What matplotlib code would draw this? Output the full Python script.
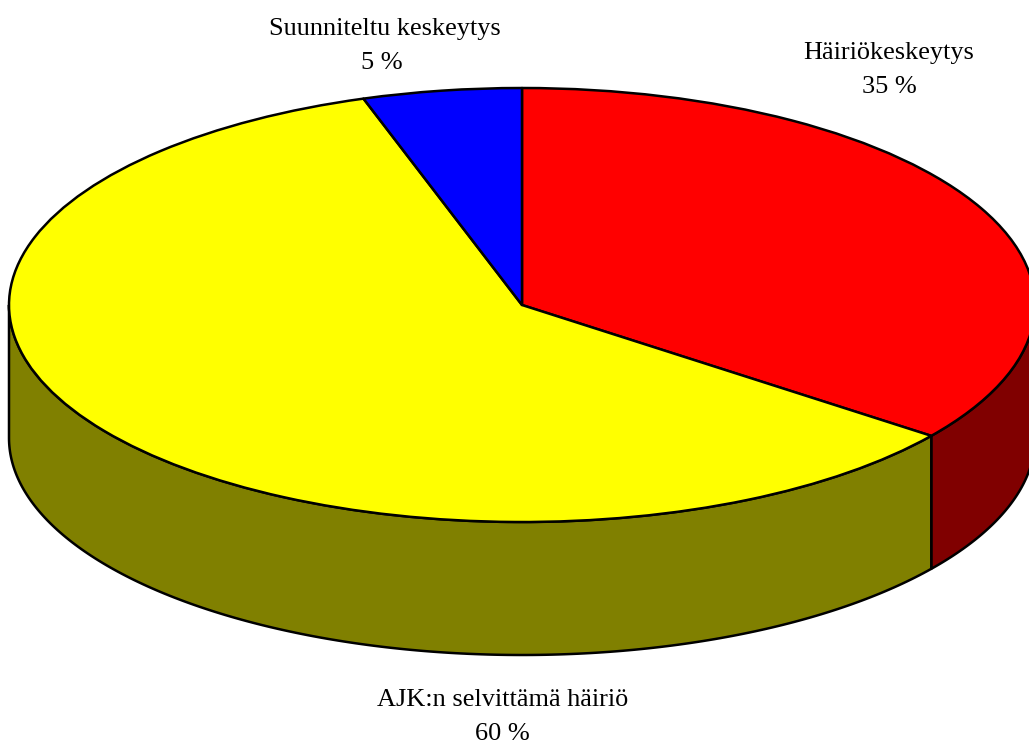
import numpy as np
import matplotlib
matplotlib.use("Agg")
import matplotlib.pyplot as plt
from matplotlib.patches import Wedge, Polygon
from matplotlib.transforms import Affine2D

labels = ["Häiriökeskeytys", "AJK:n selvittämä häiriö", "Suunniteltu keskeytys"]
values = [35.3, 59.7, 5]
percent_labels = ["35 %", "60 %", "5 %"]
top_colors = ["#ff0000", "#ffff00", "#0000ff"]
side_colors = ["#800000", "#808000", "#000080"]

# pie geometry in image pixels
cx, cy = 522, 305
rx, ry = 513, 217
depth = 133
edge = 1.8


def arc_points(a0, a1):
	"""Points on the rim, angles are math style degrees"""
	t = np.radians(np.linspace(a0, a1, 200))
	return np.column_stack((cx + rx * np.cos(t), cy + ry * np.sin(t)))


fig = plt.figure(figsize=(10.29, 7.45), dpi=100)
ax = fig.add_axes([0, 0, 1, 1])
ax.set_xlim(0, 1029)
ax.set_ylim(745, 0)
ax.axis("off")

# y axis is flipped, so growing angle runs clockwise from the top
ellipse = Affine2D().scale(1, ry / rx).translate(cx, cy) + ax.transData
bounds = -90 + np.cumsum([0] + values) * 3.6

# outer walls, only the part of the rim facing the viewer (0..180 here)
for a0, a1, col in zip(bounds[:-1], bounds[1:], side_colors):
	lo, hi = max(a0, 0), min(a1, 180)
	if lo >= hi:
		continue
	rim = arc_points(lo, hi)
	wall = np.vstack((rim, rim[::-1] + [0, depth]))
	ax.add_patch(Polygon(wall, closed=True, facecolor=col, edgecolor="black", lw=edge, joinstyle="round"))

# top faces
for a0, a1, col in zip(bounds[:-1], bounds[1:], top_colors):
	ax.add_patch(Wedge((0, 0), rx, a0, a1, facecolor=col, edgecolor="black", lw=edge, transform=ellipse, joinstyle="round"))

font = dict(family="Liberation Serif", fontsize=18.9, ha="center", va="baseline", color="black")
ax.text(889, 59, labels[0], **font)
ax.text(889, 93, percent_labels[0], **font)
ax.text(503, 706, labels[1], **font)
ax.text(502, 740, percent_labels[1], **font)
ax.text(385, 35, labels[2], **font)
ax.text(382, 69, percent_labels[2], **font)

fig.savefig("out.png", dpi=100)
